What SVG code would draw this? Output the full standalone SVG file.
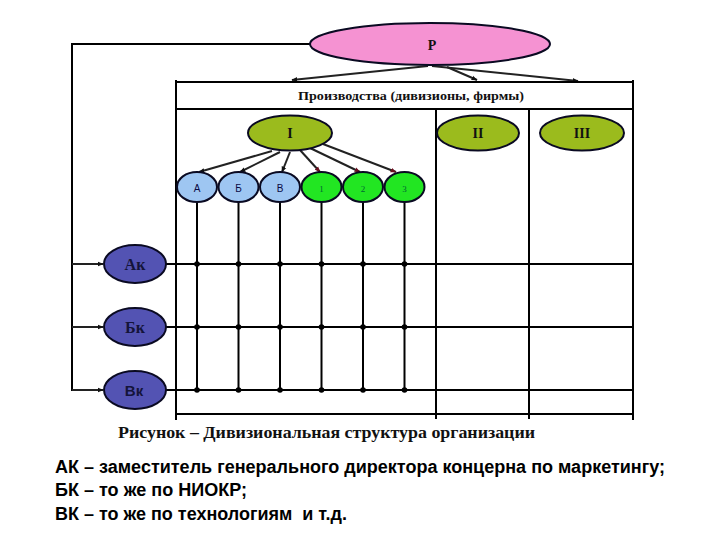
<svg xmlns="http://www.w3.org/2000/svg" width="720" height="540" viewBox="0 0 720 540">
<defs>
<marker id="ah" viewBox="0 0 10 10" refX="9" refY="5" markerWidth="6" markerHeight="6" orient="auto" markerUnits="userSpaceOnUse"><path d="M0,1 L10,5 L0,9 z" fill="#111"/></marker>
<marker id="ahr" viewBox="0 0 10 10" refX="9" refY="5" markerWidth="6" markerHeight="6" orient="auto" markerUnits="userSpaceOnUse"><path d="M0,1 L10,5 L0,9 z" fill="#6a0f1f"/></marker>
</defs>
<style>
.ln{stroke:#000;stroke-width:2;fill:none}
.ar{stroke:#222;stroke-width:2;fill:none;marker-end:url(#ah)}
.arr{stroke:#222;stroke-width:2;fill:none;marker-end:url(#ahr)}
.el{stroke:#0a0a22;stroke-width:2}
.big{font-family:"Liberation Serif",serif;font-weight:bold;font-size:14px;fill:#111;text-anchor:middle}
.sm{font-family:"Liberation Sans",sans-serif;font-size:10px;fill:#0a0a44;text-anchor:middle}
.num{font-family:"Liberation Serif",serif;font-size:9px;fill:#063;text-anchor:middle}
.k{font-family:"Liberation Serif",serif;font-weight:bold;font-size:16px;fill:#14143a;text-anchor:middle}
.ks{font-family:"Liberation Sans",sans-serif;font-weight:bold;font-size:15px;fill:#14143a;text-anchor:middle}
.dot{fill:#000}
.leg{font-family:"Liberation Sans",sans-serif;font-weight:bold;font-size:18px;fill:#000}
</style>
<rect width="720" height="540" fill="#fff"/>
<g id="connectors">
<polyline class="ln" points="310,44 72,44 72,391"/>
<line class="ar" x1="72" y1="264" x2="103" y2="264"/>
<line class="ar" x1="72" y1="327" x2="103" y2="327"/>
<line class="ar" x1="72" y1="390" x2="103" y2="390"/>
<line class="ar" x1="428" y1="66" x2="292" y2="80"/>
<line class="ar" x1="447" y1="67" x2="477" y2="80"/>
<line class="ar" x1="432" y1="66" x2="578" y2="81"/>
<line class="ln" x1="176" y1="82" x2="633" y2="82"/>
<line class="ln" x1="176" y1="109" x2="633" y2="109"/>
<line class="ln" x1="176" y1="80" x2="176" y2="420"/>
<line class="ln" x1="633" y1="80" x2="633" y2="420"/>
<line class="ln" x1="436" y1="109" x2="436" y2="419"/>
<line class="ln" x1="529" y1="109" x2="529" y2="419"/>
<line class="ln" x1="176" y1="414" x2="633" y2="414"/>
<line class="ln" x1="166" y1="264" x2="633" y2="264"/>
<line class="ln" x1="166" y1="327" x2="633" y2="327"/>
<line class="ln" x1="166" y1="390" x2="633" y2="390"/>
<line class="ar" x1="272" y1="151" x2="199" y2="172"/>
<line class="ar" x1="280" y1="152" x2="240" y2="172"/>
<line class="ar" x1="290" y1="152" x2="282" y2="172"/>
<line class="arr" x1="300" y1="150" x2="320" y2="172"/>
<line class="arr" x1="310" y1="148" x2="360" y2="172"/>
<line class="arr" x1="323" y1="144" x2="396" y2="172"/>
<line class="ln" x1="197" y1="202" x2="197" y2="390"/>
<line class="ln" x1="238.5" y1="202" x2="238.5" y2="390"/>
<line class="ln" x1="280" y1="202" x2="280" y2="390"/>
<line class="ln" x1="321.5" y1="202" x2="321.5" y2="390" stroke-width="2.5"/>
<line class="ln" x1="363" y1="202" x2="363" y2="390"/>
<line class="ln" x1="404.5" y1="202" x2="404.5" y2="390" stroke-width="2.5"/>
<g class="dot">
<circle cx="197" cy="264" r="2.8"/><circle cx="238.5" cy="264" r="2.8"/><circle cx="280" cy="264" r="2.8"/><circle cx="321.5" cy="264" r="2.8"/><circle cx="363" cy="264" r="2.8"/><circle cx="404.5" cy="264" r="2.8"/>
<circle cx="197" cy="327" r="2.8"/><circle cx="238.5" cy="327" r="2.8"/><circle cx="280" cy="327" r="2.8"/><circle cx="321.5" cy="327" r="2.8"/><circle cx="363" cy="327" r="2.8"/><circle cx="404.5" cy="327" r="2.8"/>
<circle cx="197" cy="390" r="2.8"/><circle cx="238.5" cy="390" r="2.8"/><circle cx="280" cy="390" r="2.8"/><circle cx="321.5" cy="390" r="2.8"/><circle cx="363" cy="390" r="2.8"/><circle cx="404.5" cy="390" r="2.8"/>
</g>
</g>
<text x="298" y="100" font-family="Liberation Serif, serif" font-weight="bold" font-size="12" fill="#111" textLength="226" lengthAdjust="spacingAndGlyphs">Производства (дивизионы, фирмы)</text>
<g id="P"><ellipse class="el" cx="430" cy="44" rx="120" ry="21" fill="#f592d2"/><text class="big" x="432" y="50">P</text></g>
<g id="I"><ellipse class="el" cx="290" cy="133" rx="42" ry="17.5" fill="#9bbb1d"/><text class="big" x="290" y="138">I</text></g>
<g id="II"><ellipse class="el" cx="478" cy="133" rx="41" ry="17.5" fill="#9bbb1d"/><text class="big" x="478" y="138">II</text></g>
<g id="III"><ellipse class="el" cx="582" cy="133" rx="42" ry="17.5" fill="#9bbb1d"/><text class="big" x="582" y="138">III</text></g>
<g id="A"><ellipse class="el" cx="197" cy="187" rx="20" ry="15" fill="#9ec6f2"/><text class="sm" x="197" y="192">А</text></g>
<g id="B"><ellipse class="el" cx="238.5" cy="187" rx="20" ry="15" fill="#9ec6f2"/><text class="sm" x="238.5" y="192">Б</text></g>
<g id="V"><ellipse class="el" cx="280" cy="187" rx="20" ry="15" fill="#9ec6f2"/><text class="sm" x="280" y="192">В</text></g>
<g id="n1"><ellipse class="el" cx="321.5" cy="187" rx="20" ry="15" fill="#22e622"/><text class="num" x="321.5" y="192">1</text></g>
<g id="n2"><ellipse class="el" cx="363" cy="187" rx="20" ry="15" fill="#22e622"/><text class="num" x="363" y="192">2</text></g>
<g id="n3"><ellipse class="el" cx="404.5" cy="187" rx="20" ry="15" fill="#22e622"/><text class="num" x="404.5" y="192">3</text></g>
<g id="Ak"><ellipse class="el" cx="135" cy="264" rx="31" ry="19" fill="#5353b3"/><text class="k" x="135" y="270">Ак</text></g>
<g id="Bk"><ellipse class="el" cx="135" cy="327" rx="31" ry="19" fill="#5353b3"/><text class="k" x="135" y="333">Бк</text></g>
<g id="Vk"><ellipse class="el" cx="135" cy="390" rx="31" ry="19" fill="#5353b3"/><text class="ks" x="134" y="396">Вк</text></g>
<text x="118" y="438" font-family="Liberation Serif, serif" font-weight="bold" font-size="16" fill="#111" textLength="417" lengthAdjust="spacingAndGlyphs">Рисунок – Дивизиональная структура организации</text>
<text class="leg" x="55" y="473" textLength="610" lengthAdjust="spacingAndGlyphs">АК – заместитель генерального директора концерна по маркетингу;</text>
<text class="leg" x="55" y="496" textLength="192" lengthAdjust="spacingAndGlyphs">БК – то же по НИОКР;</text>
<text class="leg" x="55" y="520" textLength="292" lengthAdjust="spacingAndGlyphs" xml:space="preserve">ВК – то же по технологиям  и т.д.</text>
</svg>
